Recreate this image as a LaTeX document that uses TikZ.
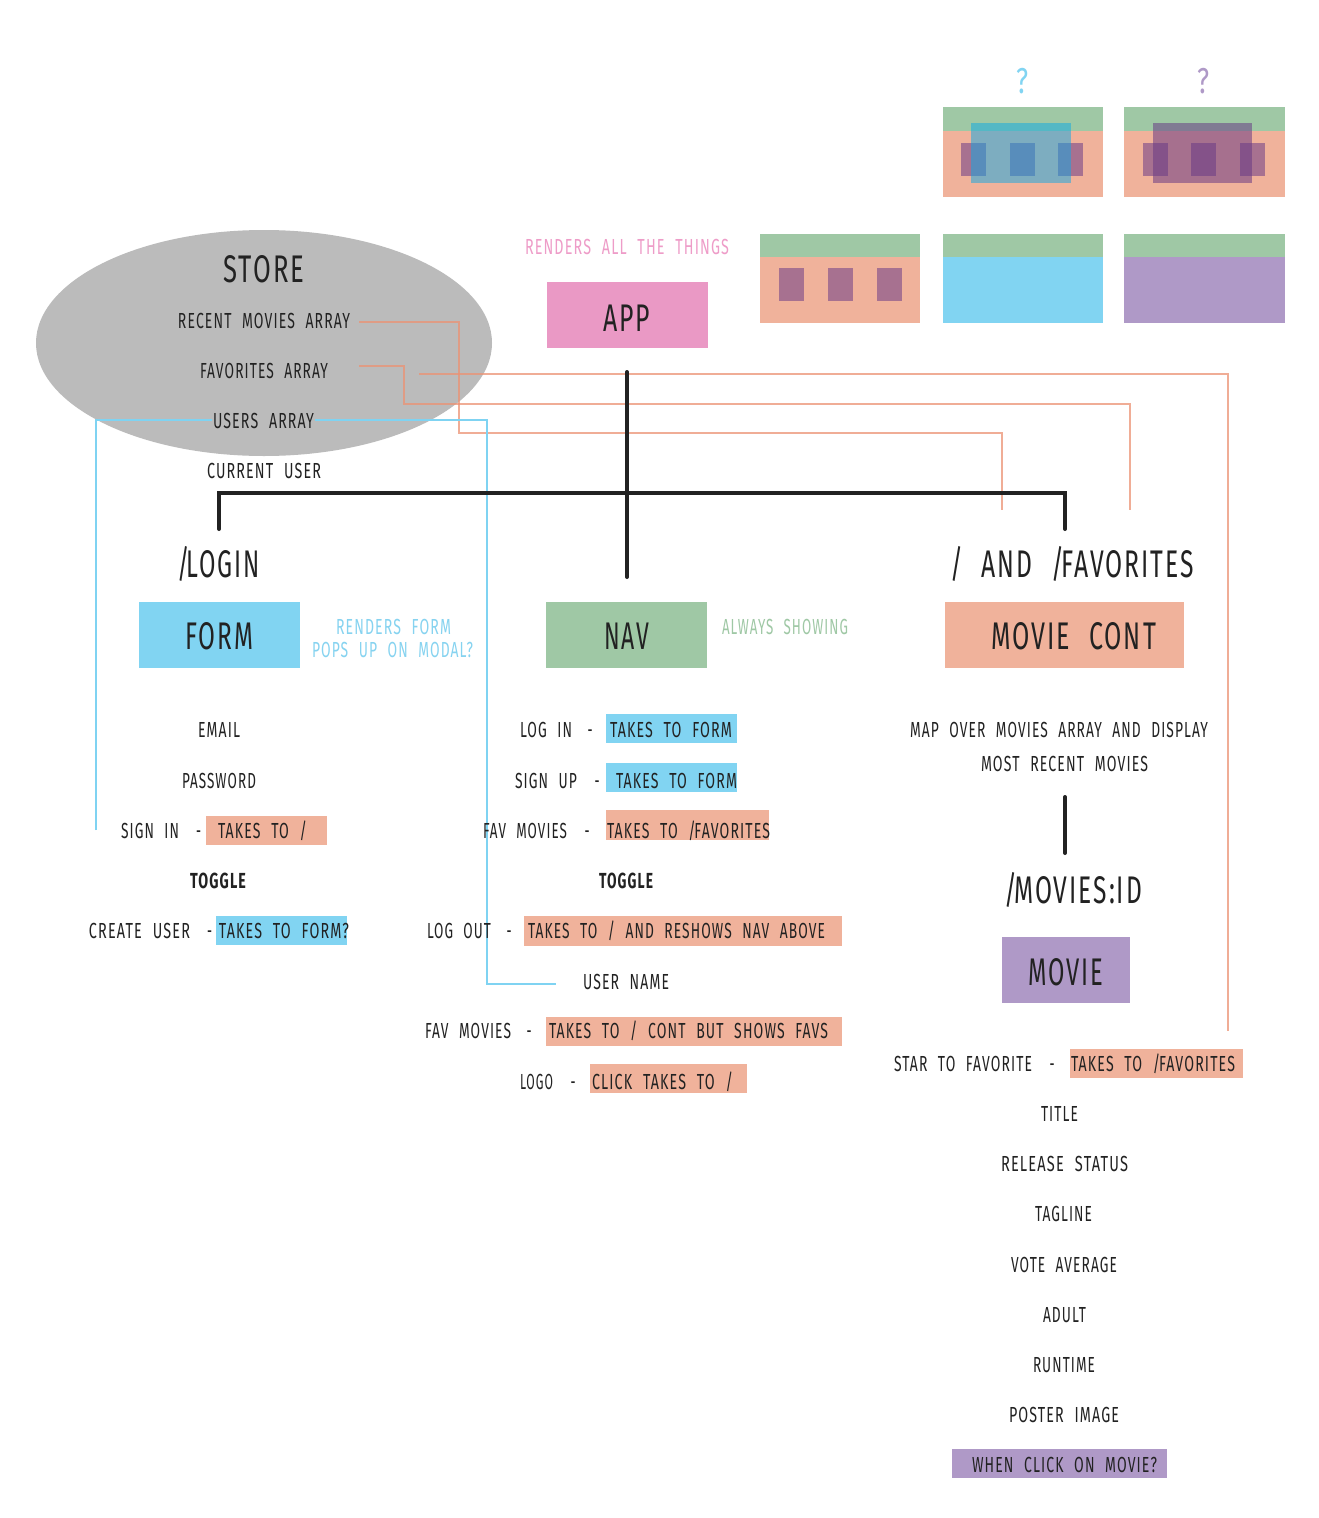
\documentclass[tikz,border=0pt]{standalone}
\usepackage{fontspec}
\setmainfont{Fira Sans}[LetterSpace=8, WordSpace=2.2]
\usepackage{graphicx}
\usetikzlibrary{shapes.geometric}
\definecolor{cSalmon}{HTML}{F0B29B}
\definecolor{cGreen}{HTML}{9FC8A5}
\definecolor{cBlue}{HTML}{81D4F2}
\definecolor{cPurple}{HTML}{AF99C7}
\definecolor{cPink}{HTML}{EA99C5}
\definecolor{cDark}{HTML}{A77190}
\definecolor{cGray}{HTML}{BBBBBB}
\definecolor{cText}{HTML}{222222}
\definecolor{cOrange}{HTML}{EC9274}
\definecolor{cBlueLine}{HTML}{7FD3F2}
\definecolor{cOverBlue}{HTML}{0BA9E6}
\definecolor{cOverPurple}{HTML}{663784}
\definecolor{cPinkT}{HTML}{EE9CC8}
\definecolor{cBlueT}{HTML}{86D3F0}
\definecolor{cGreenT}{HTML}{9FC8A5}
\newcommand\rs[2]{\resizebox{#1pt}{\height}{#2}}
\newcommand\bsl{/\kern-4pt}
\newcommand\ssl{/\kern-2pt}
\tikzset{
  t/.style={inner sep=0pt, anchor=base, text=cText, font=\fontsize{21.8}{26}\selectfont},
  big/.style={t, font=\fontsize{38.5}{46}\selectfont},
  qm/.style={t, font=\fontsize{36}{40}\selectfont},
  bx/.style={inner sep=0pt, outer sep=0pt, anchor=north west, draw=none},
  tree/.style={draw=cText, line width=4pt, line cap=round},
  oline/.style={draw=cOrange, draw opacity=0.75, line width=1.5pt},
  bline/.style={draw=cBlueLine, line width=1.6pt},
}
\begin{document}
\begin{tikzpicture}[x=1pt, y=-1pt]
\useasboundingbox (0,0) rectangle (1318,1518);
\fill[white] (0,0) rectangle (1318,1518);

% ---- mockup panels, top row
\node[bx, fill=cGreen, minimum width=160pt, minimum height=24pt] (pAg) at (943,107) {};
\node[bx, fill=cSalmon, minimum width=160pt, minimum height=66pt] (pAs) at (943,131) {};
\node[bx, fill=cDark, minimum width=25pt, minimum height=33pt] (pAr1) at (961,143) {};
\node[bx, fill=cDark, minimum width=25pt, minimum height=33pt] (pAr2) at (1010,143) {};
\node[bx, fill=cDark, minimum width=25pt, minimum height=33pt] (pAr3) at (1058,143) {};
\node[bx, fill=cOverBlue, fill opacity=0.5, minimum width=100pt, minimum height=60pt] (pAo) at (971,123) {};

\node[bx, fill=cGreen, minimum width=161pt, minimum height=24pt] (pBg) at (1124,107) {};
\node[bx, fill=cSalmon, minimum width=161pt, minimum height=66pt] (pBs) at (1124,131) {};
\node[bx, fill=cDark, minimum width=25pt, minimum height=33pt] (pBr1) at (1143,143) {};
\node[bx, fill=cDark, minimum width=25pt, minimum height=33pt] (pBr2) at (1191,143) {};
\node[bx, fill=cDark, minimum width=25pt, minimum height=33pt] (pBr3) at (1240,143) {};
\node[bx, fill=cOverPurple, fill opacity=0.53, minimum width=99pt, minimum height=60pt] (pBo) at (1153,123) {};

\node[qm, text=cBlue] (q1) at (1022,93) {\rs{12}{?}};
\node[qm, text=cPurple] (q2) at (1203,93) {\rs{12}{?}};

% ---- mockup panels, second row
\node[bx, fill=cGreen, minimum width=160pt, minimum height=23pt] (pCg) at (760,234) {};
\node[bx, fill=cSalmon, minimum width=160pt, minimum height=66pt] (pCs) at (760,257) {};
\node[bx, fill=cDark, minimum width=25pt, minimum height=33pt] (pCr1) at (779,268) {};
\node[bx, fill=cDark, minimum width=25pt, minimum height=33pt] (pCr2) at (828,268) {};
\node[bx, fill=cDark, minimum width=25pt, minimum height=33pt] (pCr3) at (877,268) {};
\node[bx, fill=cGreen, minimum width=160pt, minimum height=23pt] (pDg) at (943,234) {};
\node[bx, fill=cBlue, minimum width=160pt, minimum height=66pt] (pDs) at (943,257) {};
\node[bx, fill=cGreen, minimum width=161pt, minimum height=23pt] (pEg) at (1124,234) {};
\node[bx, fill=cPurple, minimum width=161pt, minimum height=66pt] (pEs) at (1124,257) {};

% ---- store
\node[ellipse, fill=cGray, inner sep=0pt, minimum width=456pt, minimum height=226pt] (store) at (264,343) {};

% ---- connectors
\coordinate (o1a) at (359,322); \coordinate (o1b) at (459,322); \coordinate (o1c) at (459,433);
\coordinate (o1d) at (1002,433); \coordinate (o1e) at (1002,510);
\coordinate (o2a) at (359,366); \coordinate (o2b) at (404,366); \coordinate (o2c) at (404,404);
\coordinate (o2d) at (1130,404); \coordinate (o2e) at (1130,510);
\coordinate (o3a) at (419,374); \coordinate (o3b) at (1228,374); \coordinate (o3c) at (1228,1031);
\draw[oline] (o1a) -- (o1b) -- (o1c) -- (o1d) -- (o1e);
\draw[oline] (o2a) -- (o2b) -- (o2c) -- (o2d) -- (o2e);
\draw[oline] (o3a) -- (o3b) -- (o3c);

\coordinate (b1) at (96,830); \coordinate (b2) at (96,420); \coordinate (b3) at (487,420);
\coordinate (b4) at (487,984); \coordinate (b5) at (556,984);
\draw[bline] (b1) -- (b2) -- (b3) -- (b4) -- (b5);

\coordinate (tc1) at (627,372); \coordinate (tc2) at (627,577);
\coordinate (tl) at (219,529); \coordinate (tlc) at (219,493);
\coordinate (trc) at (1065,493); \coordinate (tr) at (1065,529);
\coordinate (ts1) at (1065,797); \coordinate (ts2) at (1065,853);
\draw[tree] (tc1) -- (tc2);
\draw[tree, line join=miter] (tl) -- (tlc) -- (trc) -- (tr);
\draw[tree] (ts1) -- (ts2);

% ---- store texts
\node[big] (storeT) at (264,282) {\rs{81}{STORE}};
\node[t] (recent) at (264,328) {\rs{172}{RECENT MOVIES ARRAY}};
\node[t] (favarr) at (264,378) {\rs{128}{FAVORITES ARRAY}};
\node[t, fill=cGray, inner xsep=1pt] (users) at (263.5,428) {\rs{101}{USERS ARRAY}};
\node[t] (curuser) at (264,478) {\rs{114}{CURRENT USER}};

% ---- app
\node[t, text=cPinkT] (renders) at (627,254) {\rs{204}{RENDERS ALL THE THINGS}};
\node[bx, fill=cPink, minimum width=161pt, minimum height=66pt] (appbox) at (547,282) {};
\node[big] (appT) at (626.5,331) {\rs{47}{APP}};

% ---- boxes
\node[bx, fill=cBlue, minimum width=161pt, minimum height=66pt] (formbox) at (139,602) {};
\node[bx, fill=cGreen, minimum width=161pt, minimum height=66pt] (navbox) at (546,602) {};
\node[bx, fill=cSalmon, minimum width=239pt, minimum height=66pt] (mcbox) at (945,602) {};
\node[bx, fill=cPurple, minimum width=128pt, minimum height=66pt] (movbox) at (1002,937) {};
\node[bx, fill=cSalmon, minimum width=121pt, minimum height=29pt] (hl1) at (206,816) {};
\node[bx, fill=cBlue, minimum width=131pt, minimum height=29pt] (hl2) at (216,916) {};
\node[bx, fill=cBlue, minimum width=131pt, minimum height=29pt] (hl3) at (606,714) {};
\node[bx, fill=cBlue, minimum width=131pt, minimum height=29pt] (hl4) at (606,763) {};
\node[bx, fill=cSalmon, minimum width=163pt, minimum height=30pt] (hl5) at (606,810) {};
\node[bx, fill=cSalmon, minimum width=318pt, minimum height=30pt] (hl6) at (524,916) {};
\node[bx, fill=cSalmon, minimum width=296pt, minimum height=29pt] (hl7) at (546,1017) {};
\node[bx, fill=cSalmon, minimum width=157pt, minimum height=29pt] (hl8) at (590,1064) {};
\node[bx, fill=cSalmon, minimum width=173pt, minimum height=29pt] (hl9) at (1070,1049) {};
\node[bx, fill=cPurple, minimum width=215pt, minimum height=29pt] (hl10) at (952,1449) {};

% ---- left column
\node[big] (loginT) at (218.5,577) {\rs{83}{\bsl LOGIN}};
\node[big] (formT) at (219,649) {\rs{68}{FORM}};
\node[t, text=cBlueT] (rf1) at (393.5,634) {\rs{115}{RENDERS FORM}};
\node[t, text=cBlueT] (rf2) at (392.5,657) {\rs{161}{POPS UP ON MODAL?}};
\node[t] (email) at (219,737) {\rs{42}{EMAIL}};
\node[t] (pwd) at (219,788) {\rs{74}{PASSWORD}};
\node[t] (signin) at (150,838) {\rs{58}{SIGN IN}};
\node[t] (d1) at (198.5,838) {\rs{5}{-}};
\node[t] (signinT) at (262.5,838) {\rs{89}{TAKES TO /}};
\node[t] (tog1) at (218,888) {\rs{56}{\bfseries TOGGLE}};
\node[t] (create) at (139.5,938) {\rs{101}{CREATE USER}};
\node[t] (d2) at (209.5,938) {\rs{5}{-}};
\node[t] (createT) at (284,938) {\rs{130}{TAKES TO FORM?}};

% ---- center column
\node[big] (navT) at (626.5,649) {\rs{45}{NAV}};
\node[t, text=cGreenT] (always) at (785,634) {\rs{126}{ALWAYS SHOWING}};
\node[t] (loginN) at (546,737) {\rs{52}{LOG IN}};
\node[t] (d3) at (590,737) {\rs{5}{-}};
\node[t] (loginNT) at (671,737) {\rs{122}{TAKES TO FORM}};
\node[t] (signup) at (546,788) {\rs{62}{SIGN UP}};
\node[t] (d4) at (597,788) {\rs{5}{-}};
\node[t] (signupT) at (676.5,788) {\rs{121}{TAKES TO FORM}};
\node[t] (favm) at (525,838) {\rs{84}{FAV MOVIES}};
\node[t] (d5) at (587,838) {\rs{5}{-}};
\node[t] (favmT) at (688.5,838) {\rs{163}{TAKES TO \ssl FAVORITES}};
\node[t] (tog2) at (626,888) {\rs{54}{\bfseries TOGGLE}};
\node[t] (logout) at (459,938) {\rs{64}{LOG OUT}};
\node[t] (d6) at (509,938) {\rs{5}{-}};
\node[t] (logoutT) at (676.5,938) {\rs{297}{TAKES TO / AND RESHOWS NAV ABOVE}};
\node[t] (uname) at (626,989) {\rs{86}{USER NAME}};
\node[t] (favm2) at (468,1038) {\rs{86}{FAV MOVIES}};
\node[t] (d7) at (529,1038) {\rs{5}{-}};
\node[t] (favm2T) at (688.5,1038) {\rs{279}{TAKES TO / CONT BUT SHOWS FAVS}};
\node[t] (logo) at (536.5,1089) {\rs{33}{LOGO}};
\node[t] (d8) at (573,1089) {\rs{5}{-}};
\node[t] (logoT) at (662.5,1089) {\rs{141}{CLICK TAKES TO /}};

% ---- right column
\node[big] (andfav) at (1072,577) {\rs{244}{/ AND \bsl FAVORITES}};
\node[big] (mcT) at (1073.5,649) {\rs{165}{MOVIE CONT}};
\node[t] (map) at (1059,737) {\rs{298}{MAP OVER MOVIES ARRAY AND DISPLAY}};
\node[t] (most) at (1064.5,771) {\rs{167}{MOST RECENT MOVIES}};
\node[big] (movid) at (1073,903) {\rs{138}{\bsl MOVIES:ID}};
\node[big] (movT) at (1065.5,985) {\rs{75}{MOVIE}};
\node[t] (star) at (963,1071) {\rs{138}{STAR TO FAVORITE}};
\node[t] (d9) at (1052,1071) {\rs{5}{-}};
\node[t] (starT) at (1153,1071) {\rs{164}{TAKES TO \ssl FAVORITES}};
\node[t] (title) at (1059.5,1121) {\rs{37}{TITLE}};
\node[t] (release) at (1064.5,1171) {\rs{127}{RELEASE STATUS}};
\node[t] (tagline) at (1063.5,1221) {\rs{57}{TAGLINE}};
\node[t] (vote) at (1064,1272) {\rs{106}{VOTE AVERAGE}};
\node[t] (adult) at (1064.5,1322) {\rs{43}{ADULT}};
\node[t] (runtime) at (1064,1372) {\rs{62}{RUNTIME}};
\node[t] (poster) at (1064,1422) {\rs{110}{POSTER IMAGE}};
\node[t] (when) at (1064.5,1472) {\rs{185}{WHEN CLICK ON MOVIE?}};
\end{tikzpicture}
\end{document}
